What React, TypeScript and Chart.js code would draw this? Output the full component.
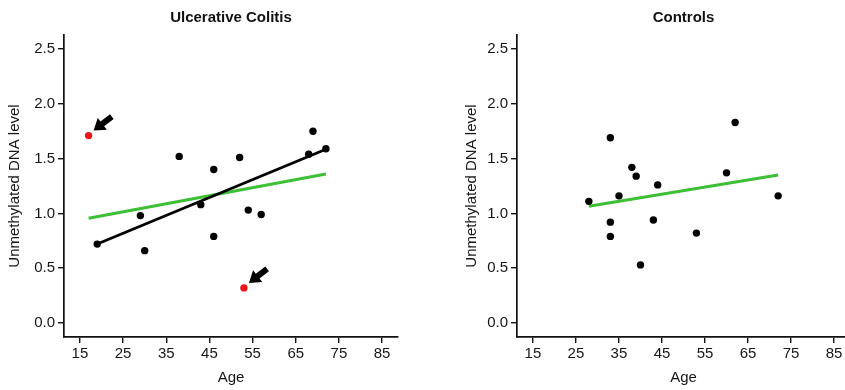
import React, { useEffect, useRef } from "react";
import { Chart, registerables } from "chart.js";
Chart.register(...registerables);

const FONT = "'Liberation Sans', Arial, Helvetica, sans-serif";

const xTicks = [15, 25, 35, 45, 55, 65, 75, 85];
const yTicks = [0, 0.5, 1, 1.5, 2, 2.5];

// Ulcerative Colitis
const ucAge = [19, 29, 30, 38, 43, 46, 46, 52, 54, 57, 68, 69, 72];
const ucLevel = [0.72, 0.98, 0.66, 1.52, 1.08, 1.4, 0.79, 1.51, 1.03, 0.99, 1.54, 1.75, 1.59];
const ucOutlierAge = [17, 53];
const ucOutlierLevel = [1.71, 0.32];
const ucFitAllAge = [17, 72];
const ucFitAllLevel = [0.955, 1.36];
const ucFitNoOutAge = [19, 72];
const ucFitNoOutLevel = [0.72, 1.585];

// Controls
const ctrlAge = [28, 33, 35, 33, 33, 38, 39, 40, 43, 44, 53, 60, 62, 72];
const ctrlLevel = [1.11, 1.69, 1.16, 0.92, 0.79, 1.42, 1.34, 0.53, 0.94, 1.26, 0.82, 1.37, 1.83, 1.16];
const ctrlFitAge = [28, 72];
const ctrlFitLevel = [1.065, 1.35];

const pts = (xs: number[], ys: number[]) => xs.map((x, i) => ({ x, y: ys[i] }));

const GREEN = "#3dbf36";

function makeArrowPlugin(xs: number[], ys: number[]) {
  return {
    id: "outlierArrows",
    afterDatasetsDraw(chart: any) {
      if (!xs.length) return;
      const ctx = chart.ctx;
      const sx = chart.scales.x;
      const sy = chart.scales.y;
      ctx.save();
      ctx.fillStyle = "#000";
      for (let i = 0; i < xs.length; i++) {
        const px = sx.getPixelForValue(xs[i]);
        const py = sy.getPixelForValue(ys[i]);
        const tip = { x: px + 5, y: py - 5 };
        let ux = 0.79, uy = -0.61;
        const l = Math.hypot(ux, uy);
        ux /= l; uy /= l;
        const nx = -uy, ny = ux;
        const total = 23, headLen = 11, hw = 7.5, sw = 3;
        const bx = tip.x + ux * headLen, by = tip.y + uy * headLen;
        const tx = tip.x + ux * total, ty = tip.y + uy * total;
        ctx.beginPath();
        ctx.moveTo(tip.x, tip.y);
        ctx.lineTo(bx + nx * hw, by + ny * hw);
        ctx.lineTo(bx + nx * sw, by + ny * sw);
        ctx.lineTo(tx + nx * sw, ty + ny * sw);
        ctx.lineTo(tx - nx * sw, ty - ny * sw);
        ctx.lineTo(bx - nx * sw, by - ny * sw);
        ctx.lineTo(bx - nx * hw, by - ny * hw);
        ctx.closePath();
        ctx.fill();
      }
      ctx.restore();
    },
  };
}

type PanelProps = {
  title: string;
  left: number;
  width: number;
  yWidth: number;
  padRight: number;
  datasets: any[];
  arrowXs: number[];
  arrowYs: number[];
};

function Panel({ title, left, width, yWidth, padRight, datasets, arrowXs, arrowYs }: PanelProps) {
  const ref = useRef<HTMLCanvasElement | null>(null);
  useEffect(() => {
    if (!ref.current) return;
    const chart = new Chart(ref.current, {
      type: "scatter",
      data: { datasets },
      plugins: [makeArrowPlugin(arrowXs, arrowYs)],
      options: {
        animation: false,
        responsive: false,
        devicePixelRatio: 1,
        layout: { padding: { left: 0, right: padRight, top: 0, bottom: 0 } },
        plugins: {
          legend: { display: false },
          tooltip: { enabled: false },
          title: {
            display: true,
            text: title,
            fullSize: false,
            color: "#111",
            font: { family: FONT, size: 15, weight: "bold" },
            padding: { top: 9, bottom: 8 },
          },
        },
        scales: {
          x: {
            type: "linear",
            min: 11.3,
            max: 88.7,
            afterBuildTicks: (s: any) => {
              s.ticks = xTicks.map((v) => ({ value: v }));
            },
            afterFit: (s: any) => {
              s.height = 53;
            },
            grid: { display: true, drawOnChartArea: false, drawTicks: true, tickLength: 6, color: "#111", lineWidth: 1.4 },
            border: { display: true, color: "#111", width: 1.7 },
            ticks: { color: "#161616", font: { family: FONT, size: 15 }, padding: 2, maxRotation: 0, autoSkip: false },
            title: { display: true, text: "Age", color: "#161616", font: { family: FONT, size: 15 }, padding: { top: 0, bottom: 3 } },
          },
          y: {
            type: "linear",
            min: -0.128,
            max: 2.628,
            afterBuildTicks: (s: any) => {
              s.ticks = yTicks.map((v) => ({ value: v }));
            },
            afterFit: (s: any) => {
              s.width = yWidth;
            },
            grid: { display: true, drawOnChartArea: false, drawTicks: true, tickLength: 6, color: "#111", lineWidth: 1.4 },
            border: { display: true, color: "#111", width: 1.7 },
            ticks: {
              color: "#161616",
              font: { family: FONT, size: 15 },
              padding: 3,
              autoSkip: false,
              callback: (v: any) => Number(v).toFixed(1),
            },
            title: {
              display: true,
              text: "Unmethylated DNA level",
              color: "#161616",
              font: { family: FONT, size: 15 },
              padding: { top: 6, bottom: 0 },
            },
          },
        },
      } as any,
    });
    return () => chart.destroy();
  }, []);
  return (
    <canvas
      ref={ref}
      width={width}
      height={390}
      style={{ position: "absolute", left, top: 0, width, height: 390 }}
    />
  );
}

const pointStyle = (color: string) => ({
  pointRadius: 3.7,
  pointBackgroundColor: color,
  pointBorderColor: color,
  pointBorderWidth: 0,
  showLine: false,
});

const lineStyle = (color: string, width: number) => ({
  showLine: true,
  pointRadius: 0,
  borderColor: color,
  borderWidth: width,
  fill: false,
});

export default function App() {
  const ucDatasets = [
    { label: "UC", data: pts(ucAge, ucLevel), ...pointStyle("#000"), order: 0 },
    { label: "UC outliers", data: pts(ucOutlierAge, ucOutlierLevel), ...pointStyle("#e8161a"), order: 0 },
    { label: "Fit all", data: pts(ucFitAllAge, ucFitAllLevel), ...lineStyle(GREEN, 3), order: 2 },
    { label: "Fit w/o outliers", data: pts(ucFitNoOutAge, ucFitNoOutLevel), ...lineStyle("#000", 2.8), order: 1 },
  ];
  const ctrlDatasets = [
    { label: "Controls", data: pts(ctrlAge, ctrlLevel), ...pointStyle("#000"), order: 0 },
    { label: "Fit", data: pts(ctrlFitAge, ctrlFitLevel), ...lineStyle(GREEN, 3), order: 1 },
  ];
  return (
    <div
      style={{
        position: "fixed",
        left: 0,
        top: 0,
        width: 845,
        height: 390,
        overflow: "hidden",
        background: "#fff",
      }}
    >
      <Panel
        title="Ulcerative Colitis"
        left={0}
        width={420}
        yWidth={64}
        padRight={22}
        datasets={ucDatasets}
        arrowXs={ucOutlierAge}
        arrowYs={ucOutlierLevel}
      />
      <Panel
        title="Controls"
        left={457}
        width={400}
        yWidth={60}
        padRight={7}
        datasets={ctrlDatasets}
        arrowXs={[]}
        arrowYs={[]}
      />
    </div>
  );
}
